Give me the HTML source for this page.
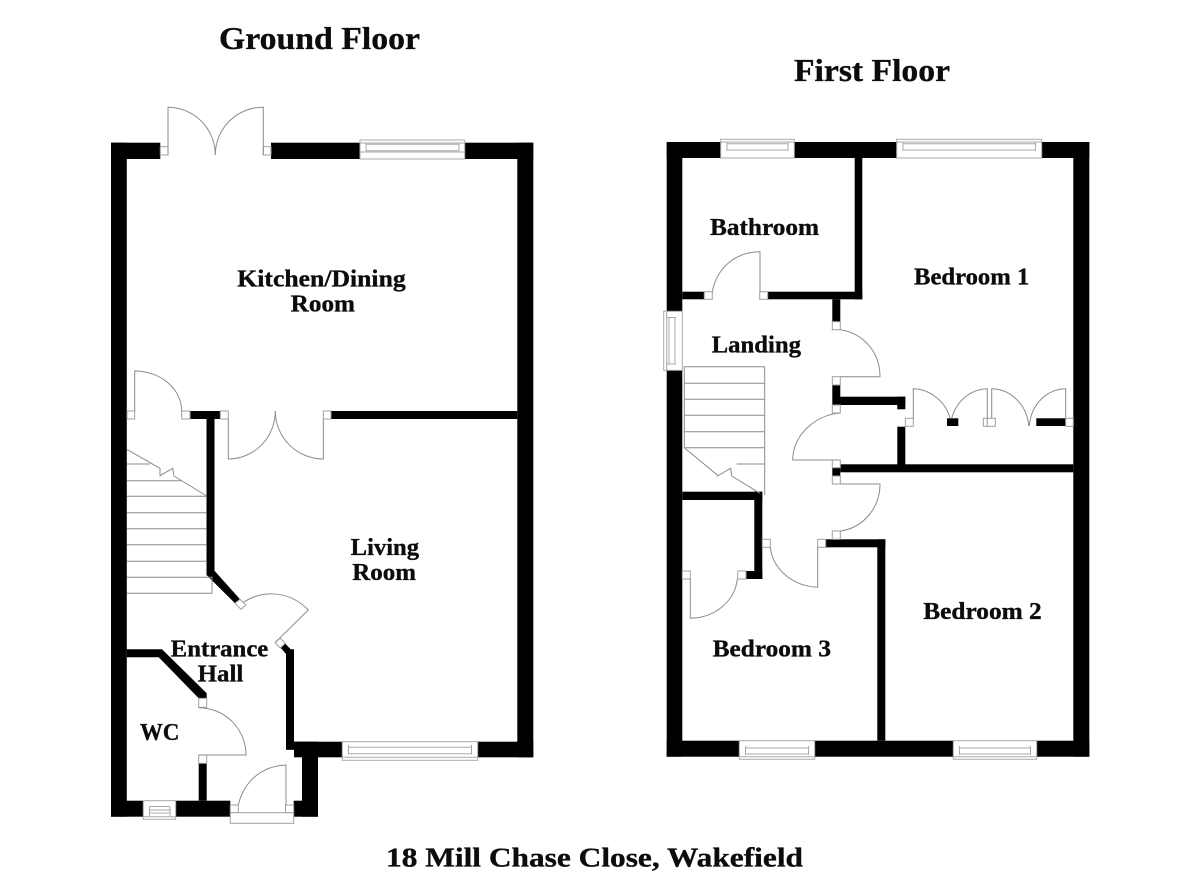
<!DOCTYPE html>
<html><head><meta charset="utf-8"><title>18 Mill Chase Close, Wakefield</title>
<style>
html,body{margin:0;padding:0;background:#fff}
svg{display:block}
text{font-family:"Liberation Serif",serif;font-weight:bold;fill:#0c0c0c;stroke:#0c0c0c;stroke-width:.35px;font-size:24px}
.w{fill:#000}
.l{fill:none;stroke:#8c8c8c;stroke-width:1}
.g{fill:none;stroke:#a8a8a8;stroke-width:1}
.j{fill:#fff;stroke:#a0a0a0;stroke-width:1}
</style></head><body>
<svg width="1200" height="873" viewBox="0 0 1200 873" xmlns="http://www.w3.org/2000/svg">
<rect width="1200" height="873" fill="#fff"/>

<!-- GROUND FLOOR walls -->
<g class="w">
<rect x="111" y="142.7" width="49.3" height="16.3"/>
<rect x="271" y="142.7" width="89" height="16.3"/>
<rect x="464.7" y="142.7" width="68.6" height="16.3"/>
<rect x="111" y="142.7" width="15.8" height="674"/>
<rect x="517.3" y="142.7" width="16" height="614.6"/>
<rect x="477.7" y="741.7" width="55.6" height="15.6"/>
<rect x="294" y="741.7" width="48.3" height="15.6"/>
<rect x="302" y="741.7" width="16" height="75"/>
<rect x="286" y="741.7" width="16" height="8"/>
<rect x="111" y="800.7" width="32.3" height="16"/>
<rect x="175.7" y="800.7" width="54.6" height="16"/>
<rect x="293.7" y="800.7" width="24.3" height="16"/>
<rect x="331" y="411" width="186.3" height="8"/>
<rect x="190" y="411" width="30.3" height="8"/>
<rect x="198.7" y="763.3" width="8" height="37.4"/>
<polygon points="206.5,411 214.5,411 214.5,570.7 240,599.3 235,603.3 206.5,575"/>
<polygon points="280.3,647.3 285.3,643.7 290.7,649.3 294,649.3 294,749.7 286,749.7 286,654"/>
<polygon points="126.8,649.3 162,649.3 206.7,693.3 206.7,698.3 198.7,698.3 158.7,657.3 126.8,657.3"/>
</g>

<!-- ground floor doors -->
<g class="j">
<rect x="160.3" y="146.7" width="7.7" height="8.3"/>
<rect x="263.3" y="146.7" width="7.7" height="8.3"/>
<rect x="127" y="411" width="7.7" height="8"/>
<rect x="181.7" y="411" width="8.3" height="8"/>
<rect x="220.3" y="411" width="8" height="8"/>
<rect x="323.3" y="411" width="7.7" height="8"/>
<polygon points="235,603.3 240,599.3 246,605 241,609.3"/>
<polygon points="275,642.7 280,638 285.3,643.3 280.3,648"/>
<rect x="198.7" y="698.3" width="8" height="9"/>
<rect x="198.7" y="755" width="8" height="8.3"/>
<rect x="230.3" y="805" width="8" height="7.7"/>
<rect x="285.5" y="805" width="8.2" height="7.7"/>
<rect x="230.3" y="812.7" width="63.4" height="10.6"/>
</g>
<g class="l">
<path d="M168 155V107.3A47.5 47.5 0 0 1 215.3 155"/>
<path d="M263.3 155V107.3A47.5 47.5 0 0 0 215.3 155"/>
<path d="M134.7 411V371A47 40 0 0 1 181.7 411"/>
<path d="M228.3 419V459A47 48 0 0 0 275.3 411"/>
<path d="M323.3 419V459A48 48 0 0 1 275.3 411"/>
<path d="M243 602.5C262 590 289 590 308.3 610L275 642.7"/>
<path d="M198.7 707.7A47.3 47.3 0 0 1 246 755H198.7"/>
<path d="M286 805V765C262 766 244 781 238.3 805"/>
<!-- stairs -->
<path d="M127 464H150M127 480.7H181.7M127 496.3H206.7M127 512.7H206.7M127 528.7H206.7M127 544.7H206.7M127 561.3H206.7M127 577.3H212V593.3H127"/>
<path d="M126.7 449.3L160 468.3V475.7L172.7 468.3L174 476L206.7 496"/>
</g>

<!-- ground floor windows -->
<g class="g">
<rect x="360" y="140" width="104.7" height="19"/><path d="M360 143H464.7M366 144.3H459V150.7H366ZM366 143V151M459 143V151M360 152H464.7"/>
<rect x="342.3" y="741.7" width="135.4" height="18.6"/><path d="M342.3 757.3H477.7M348.5 747.3H471.5V753.7H348.5ZM348.5 745V754M471.5 745V754"/>
<rect x="143.3" y="800.7" width="32.4" height="18.6"/><path d="M143.3 816.7H175.7M149.5 810H170V813H149.5ZM149.5 807V816M170 807V816M149.5 806.5H170"/>
</g>

<!-- FIRST FLOOR walls -->
<g class="w">
<rect x="666.7" y="142" width="54" height="16"/>
<rect x="794.3" y="142" width="102.4" height="16"/>
<rect x="1041.7" y="142" width="47.6" height="16"/>
<rect x="666.7" y="142" width="15.6" height="169.3"/>
<rect x="666.7" y="370.3" width="15.6" height="386.4"/>
<rect x="1073.3" y="142" width="16" height="614.7"/>
<rect x="666.7" y="740.7" width="72.6" height="16"/>
<rect x="814.7" y="740.7" width="138.6" height="16"/>
<rect x="1036.7" y="740.7" width="52.6" height="16"/>
<rect x="854.7" y="158" width="7.6" height="141.3"/>
<rect x="682.3" y="291.7" width="22" height="7.6"/>
<rect x="767.7" y="291.7" width="94.6" height="7.6"/>
<rect x="832.3" y="299.3" width="8" height="22.4"/>
<rect x="832.3" y="385" width="8" height="20"/>
<rect x="840" y="396.7" width="65.3" height="8.3"/>
<rect x="897.3" y="396.7" width="8" height="12.6"/>
<rect x="897.3" y="426.7" width="8" height="38"/>
<rect x="840.3" y="464.3" width="233" height="8"/>
<rect x="832.3" y="467.7" width="8" height="8.3"/>
<rect x="825.7" y="539.3" width="59.6" height="8"/>
<rect x="877.3" y="539.3" width="8" height="201.4"/>
<rect x="682.3" y="491.7" width="80" height="8.3"/>
<rect x="754.3" y="491.7" width="8" height="87.3"/>
<rect x="746" y="571" width="16.3" height="8"/>
<rect x="947" y="418.3" width="11.3" height="7.7"/>
<rect x="1036.3" y="418.3" width="29.4" height="7.7"/>
</g>

<!-- first floor jambs -->
<g class="j">
<rect x="704.3" y="291.7" width="8" height="7.6"/>
<rect x="759.7" y="291.7" width="8" height="7.6"/>
<rect x="832.3" y="321.7" width="8" height="8"/>
<rect x="832.3" y="376.7" width="8" height="8.3"/>
<rect x="832.3" y="405" width="8" height="8"/>
<rect x="832.3" y="460" width="8" height="7.7"/>
<rect x="832.3" y="476" width="8" height="8"/>
<rect x="832.3" y="531" width="8" height="8.3"/>
<rect x="817.7" y="539.3" width="8" height="8"/>
<rect x="762.3" y="539.3" width="8" height="8"/>
<rect x="737.7" y="571" width="8.3" height="8"/>
<rect x="682.3" y="571" width="8" height="8"/>
<rect x="905.3" y="418.3" width="8" height="8"/>
<rect x="983.3" y="418.3" width="4" height="8"/>
<rect x="987.3" y="418.3" width="8" height="8"/>
<rect x="1065.7" y="418.3" width="7.6" height="8"/>
</g>

<!-- first floor door leaves -->
<g class="l">
<path d="M760 291.7V251.7C735 252 717 268 712.3 291.7"/>
<path d="M840.3 329.7C863 333 880 352 880 376.7H840.3"/>
<path d="M840.3 413C815 415 793 435 792.7 460H840.3"/>
<path d="M840.3 484H880C880 508 863 528 840.3 531"/>
<path d="M817.7 547.3V587.3C793 586 773 570 770.3 547.3"/>
<path d="M737.3 579C735 601 715 618 690.3 618.3V579"/>
<path d="M913.3 418.3V388.7C930 389 946 402 950 418.3"/>
<path d="M951.7 418.3C956 402 970 389 987.3 388.7V418.3"/>
<path d="M991.7 418.3V388.7C1010 389 1027 404 1028.7 426"/>
<path d="M1029.3 426C1031 404 1047 389 1065.7 388.7V418.3"/>
<!-- stairs -->
<path d="M684.3 447.7V366.7H764.7V495M684.3 383.3H764.7M684.3 399.3H764.7M684.3 415.3H764.7M684.3 431.7H764.7M684.3 447.7H764.7M736.7 464H764.7M684.3 447.7L717.3 475V476L730.7 468.3L731.7 476L760 493.3"/>
</g>
<!-- windows -->
<g class="g">
<rect x="720.7" y="139.3" width="73.6" height="18.7"/><path d="M720.7 142H794.3M727 143.7H788V150H727ZM727 142V151M788 142V151"/>
<rect x="896.7" y="139.3" width="145" height="18.7"/><path d="M896.7 142H1041.7M903 143.7H1035.5V150H903ZM903 142V151M1035.5 142V151"/>
<rect x="663.7" y="311.3" width="18.6" height="59"/><path d="M666.7 311.3V370.3M669 317.5H675V364H669ZM667 317.5H676M667 364H676"/>
<rect x="739.3" y="740.7" width="75.4" height="18.6"/><path d="M739.3 756.7H814.7M745.5 748H808.5V754H745.5ZM745.5 746V755M808.5 746V755"/>
<rect x="953.3" y="740.7" width="83.4" height="18.6"/><path d="M953.3 756.7H1036.7M959.5 748H1030.5V754H959.5ZM959.5 746V755M1030.5 746V755"/>
</g>

<!-- labels -->
<text x="219" y="49" style="font-size:32px" textLength="201" lengthAdjust="spacingAndGlyphs">Ground Floor</text>
<text x="794" y="81" style="font-size:32px" textLength="156" lengthAdjust="spacingAndGlyphs">First Floor</text>
<text x="386" y="866.7" style="font-size:27.5px" textLength="417" lengthAdjust="spacingAndGlyphs">18 Mill Chase Close, Wakefield</text>
<text x="237.3" y="286.7" textLength="168.4" lengthAdjust="spacingAndGlyphs">Kitchen/Dining</text>
<text x="290.7" y="311.7" textLength="64.3" lengthAdjust="spacingAndGlyphs">Room</text>
<text x="350.7" y="555" textLength="68.3" lengthAdjust="spacingAndGlyphs">Living</text>
<text x="352.3" y="580" textLength="63.7" lengthAdjust="spacingAndGlyphs">Room</text>
<text x="170.7" y="656.7" textLength="97.6" lengthAdjust="spacingAndGlyphs">Entrance</text>
<text x="197.7" y="681.7" textLength="45.6" lengthAdjust="spacingAndGlyphs">Hall</text>
<text x="140" y="740" textLength="39.3" lengthAdjust="spacingAndGlyphs">WC</text>
<text x="710" y="235" textLength="109" lengthAdjust="spacingAndGlyphs">Bathroom</text>
<text x="914" y="284.3" textLength="115.3" lengthAdjust="spacingAndGlyphs">Bedroom 1</text>
<text x="711.7" y="352.3" textLength="89.3" lengthAdjust="spacingAndGlyphs">Landing</text>
<text x="923.3" y="619" textLength="118.4" lengthAdjust="spacingAndGlyphs">Bedroom 2</text>
<text x="712.7" y="656.7" textLength="118.3" lengthAdjust="spacingAndGlyphs">Bedroom 3</text>
</svg>
</body></html>
